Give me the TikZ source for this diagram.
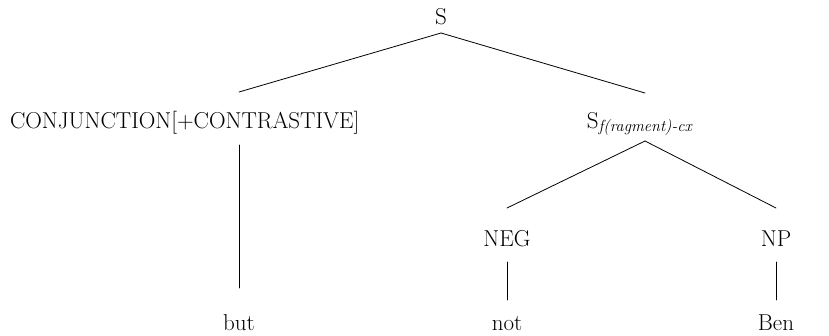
\documentclass[tikz,border=0pt]{standalone}
\usepackage{fontspec}
\usetikzlibrary{calc}
\begin{document}
\begin{tikzpicture}[x=1pt,y=-1pt,
  lbl/.style={inner sep=0pt, outer sep=0pt, font=\fontsize{23}{27}\selectfont, anchor=base, text height=16pt, text depth=0pt},
  edge/.style={line width=0.8pt, line cap=round}]
\useasboundingbox (0,0) rectangle (829,335);
\node[lbl] (S) at (441,24) {S};
\node[lbl, anchor=base west] (conj) at (10,128) {CONJUNCTION[+CONTRASTIVE]};
\node[lbl, text depth=7pt] (sf) at (640,128) {S\textsubscript{\textit{f(ragment)-cx}}};
\node[lbl] (neg) at (507,246) {NEG};
\node[lbl] (np) at (776,246) {NP};
\node[lbl] (but) at (239,330) {but};
\node[lbl] (not) at (507,330) {not};
\node[lbl] (ben) at (776,330) {Ben};
\draw[edge] ($(S.south)+(0,9)$) -- ($(but.north)+(0,-222)$);
\draw[edge] ($(S.south)+(0,9)$) -- ($(sf.north)+(5,-19)$);
\draw[edge] ($(but.north)+(0,-169)$) -- ($(but.north)+(0,-26)$);
\draw[edge] ($(sf.south)+(5,6)$) -- ($(neg.north)+(0,-22)$);
\draw[edge] ($(sf.south)+(5,6)$) -- ($(np.north)+(0,-22)$);
\draw[edge] ($(neg.south)+(0,16)$) -- ($(not.north)+(0,-14)$);
\draw[edge] ($(np.south)+(0,16)$) -- ($(ben.north)+(0,-14)$);
\end{tikzpicture}
\end{document}
